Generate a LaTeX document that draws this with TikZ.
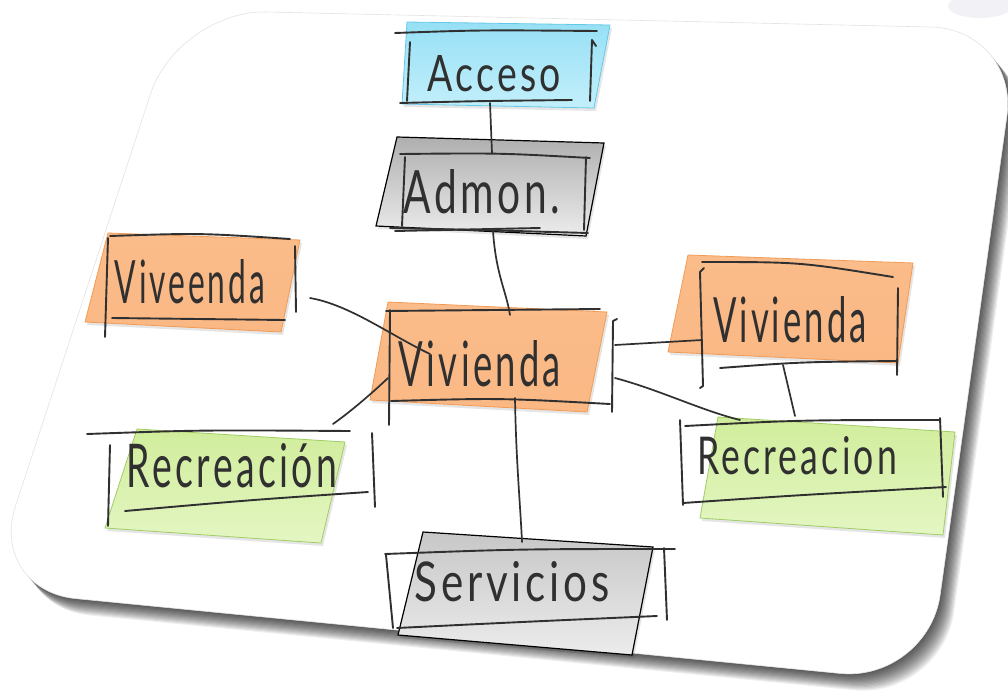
\documentclass[tikz,border=0pt]{standalone}
\usepackage{fontspec}
\usepackage{graphicx}
\newfontfamily\hand[LetterSpace=9]{Lato}
\definecolor{pencil}{RGB}{48,48,48}
\definecolor{cyanT}{RGB}{150,224,245}
\definecolor{cyanB}{RGB}{195,239,251}
\definecolor{cyanE}{RGB}{100,200,232}
\definecolor{grayT}{RGB}{175,175,175}
\definecolor{grayB}{RGB}{236,236,236}
\definecolor{orT}{RGB}{250,188,138}
\definecolor{orM}{RGB}{254,232,212}
\definecolor{orB}{RGB}{250,184,132}
\definecolor{orE}{RGB}{242,155,85}
\definecolor{grT}{RGB}{208,237,155}
\definecolor{grB}{RGB}{228,246,195}
\definecolor{grE}{RGB}{160,205,100}
\tikzset{
  pen/.style={draw=pencil,line width=1.9pt,line cap=round,line join=round},
  conn/.style={draw=pencil,line width=1.7pt,line cap=round},
  boxshadow/.style={fill=black,opacity=0.10},
  cyanbox/.style={top color=cyanT,bottom color=cyanB,draw=cyanE,line width=0.8pt},
  graybox/.style={top color=grayT,bottom color=grayB,draw=black,line width=1.2pt},
  lgraybox/.style={top color=grayT!70!white,bottom color=grayB,draw=black,line width=1.2pt},
  orbox/.style={top color=orT,middle color=orM,bottom color=orB,draw=orE,line width=0.8pt},
  grbox/.style={top color=grT,bottom color=grB,draw=grE,line width=0.8pt},
  txt/.style={text=pencil,inner sep=0pt,font=\hand}
}
\begin{document}
\begin{tikzpicture}[x=1pt,y=-1pt]
\useasboundingbox (0,0) rectangle (1008,696);
\fill[white] (0,0) rectangle (1008,696);
% faint decoration top right
\fill[blue!20!gray!12,opacity=0.7] (980,6) ellipse (32 and 12);
% card shadow
\foreach \i in {1,...,14}{
  \fill[black,opacity=0.065,rounded corners=88pt,shift={(\i*1.0,\i*1.2)}]
    (178,10) -- (1019,29) -- (928,682) -- (-12,590) -- cycle;
}
% card
\fill[white,rounded corners=88pt] (178,10) -- (1019,29) -- (928,682) -- (-12,590) -- cycle;
\draw[gray!22,line width=0.6pt,rounded corners=88pt] (178,10) -- (1019,29) -- (928,682) -- (-12,590) -- cycle;

% ---------- boxes ----------
% Acceso
\fill[boxshadow] (409,25) -- (612,28) -- (596,111) -- (404,107) -- cycle;
\shade[cyanbox] (407,22) -- (610,25) -- (594,108) -- (402,104) -- cycle;
% Admon
\fill[boxshadow] (399,140) -- (606,146) -- (588,239) -- (378,229) -- cycle;
\shade[graybox] (397,137) -- (604,143) -- (586,236) -- (376,226) -- cycle;
% Viveenda
\fill[boxshadow] (110,236) -- (302,243) -- (283,335) -- (87,325) -- cycle;
\shade[orbox] (108,233) -- (300,240) -- (281,332) -- (85,322) -- cycle;
% Vivienda centre
\fill[boxshadow] (390,305) -- (609,315) -- (589,415) -- (372,403) -- cycle;
\shade[orbox] (388,302) -- (607,312) -- (587,412) -- (370,400) -- cycle;
% Vivienda right
\fill[boxshadow] (690,258) -- (915,266) -- (900,366) -- (670,355) -- cycle;
\shade[orbox] (688,255) -- (913,263) -- (898,363) -- (668,352) -- cycle;
% Recreacion right
\fill[boxshadow] (720,420) -- (957,435) -- (945,538) -- (702,521) -- cycle;
\shade[grbox] (718,417) -- (955,432) -- (943,535) -- (700,518) -- cycle;
% Recreacion left
\fill[boxshadow] (139,432) -- (347,445) -- (323,546) -- (107,531) -- cycle;
\shade[grbox] (137,429) -- (345,442) -- (321,543) -- (105,528) -- cycle;
% Servicios
\fill[boxshadow] (425,535) -- (655,550) -- (634,658) -- (400,638) -- cycle;
\shade[lgraybox] (423,532) -- (653,547) -- (632,655) -- (398,635) -- cycle;

% ---------- hand drawn brackets ----------
% Acceso
\draw[pen] (395,33) .. controls (480,30) .. (597,31);
\draw[pen] (400,103) .. controls (480,101) .. (572,100);
\draw[pen] (410,42) -- (407,101);
\draw[pen] (590,101) -- (592,40) -- (596,46);
% Admon
\draw[pen] (400,154) .. controls (500,153) .. (590,158);
\draw[pen] (390,228) .. controls (480,230) .. (588,233);
\draw[pen] (395,231) -- (540,228);
\draw[pen] (405,157) -- (402,226);
\draw[pen] (586,157) -- (584,230);
% Viveenda
\draw[pen] (110,236) .. controls (200,233) .. (290,239);
\draw[pen] (112,318) -- (285,320);
\draw[pen] (108,238) -- (105,337);
\draw[pen] (295,246) -- (296,312);
% Vivienda centre
\draw[pen] (386,311) -- (600,309);
\draw[pen] (391,401) .. controls (500,398) .. (610,404);
\draw[pen] (390,310) -- (389,425);
\draw[pen] (617,319) -- (613,321) -- (612,412);
% Vivienda right
\draw[pen] (702,262) .. controls (800,262) .. (893,277);
\draw[pen] (720,368) .. controls (800,362) .. (896,361);
\draw[pen] (704,268) -- (700,272) -- (703,386) -- (700,388);
\draw[pen] (898,288) -- (897,375);
% Recreacion right
\draw[pen] (685,426) .. controls (800,420) .. (940,420);
\draw[pen] (683,503) .. controls (800,495) .. (946,487);
\draw[pen] (680,420) -- (683,505);
\draw[pen] (940,418) -- (943,497);
% Recreacion left
\draw[pen] (87,434) .. controls (200,430) .. (350,431);
\draw[pen] (125,511) .. controls (250,500) .. (368,492);
\draw[pen] (110,445) -- (108,526);
\draw[pen] (372,433) -- (375,507);
% Servicios
\draw[pen] (385,554) .. controls (520,549) .. (675,549);
\draw[pen] (397,628) .. controls (520,622) .. (657,616);
\draw[pen] (386,555) -- (393,628);
\draw[pen] (664,548) -- (667,620);

% ---------- texts ----------
\node[txt] (tAcceso) at (494,74) {\resizebox{134pt}{36pt}{Acceso}};
\node[txt] (tAdmon) at (482,192) {\resizebox{157pt}{44pt}{Admon.}};
\node[txt] (tViveenda) at (190,282) {\resizebox{150pt}{44pt}{Viveenda}};
\node[txt] (tVivC) at (480,364) {\resizebox{162pt}{46pt}{Vivienda}};
\node[txt] (tVivR) at (790,320) {\resizebox{154pt}{46pt}{Vivienda}};
\node[txt] (tRecR) at (797,456) {\resizebox{200pt}{38pt}{Recreacion}};
\node[txt] (tRecL) at (232,466) {\resizebox{210pt}{44pt}{Recreación}};
\node[txt] (tServ) at (512,582) {\resizebox{195pt}{40pt}{Servicios}};

% ---------- connector end points ----------
\coordinate (acB) at (490,103);
\coordinate (adT) at (492,153);
\coordinate (adB) at (493,231);
\coordinate (vcT) at (510,315);
\coordinate (vlR) at (310,298);
\coordinate (vcV) at (430,354);
\coordinate (vcL) at (388,378);
\coordinate (rlT) at (333,424);
\coordinate (vcB) at (515,398);
\coordinate (svT) at (522,542);
\coordinate (vcR1) at (615,345);
\coordinate (vrL) at (702,340);
\coordinate (vcR2) at (615,378);
\coordinate (rrT) at (740,420);
\coordinate (vrB) at (783,365);
\coordinate (rrT2) at (795,416);

\draw[conn] (acB) -- (adT);
\draw[conn] (adB) .. controls (496,275) and (506,290) .. (vcT);
\draw[conn] (vlR) .. controls (350,305) and (390,335) .. (vcV);
\draw[conn] (vcL) .. controls (370,395) and (350,412) .. (rlT);
\draw[conn] (vcB) .. controls (516,460) and (520,500) .. (svT);
\draw[conn] (vcR1) -- (vrL);
\draw[conn] (vcR2) .. controls (660,390) and (700,410) .. (rrT);
\draw[conn] (vrB) -- (rrT2);
\end{tikzpicture}
\end{document}
